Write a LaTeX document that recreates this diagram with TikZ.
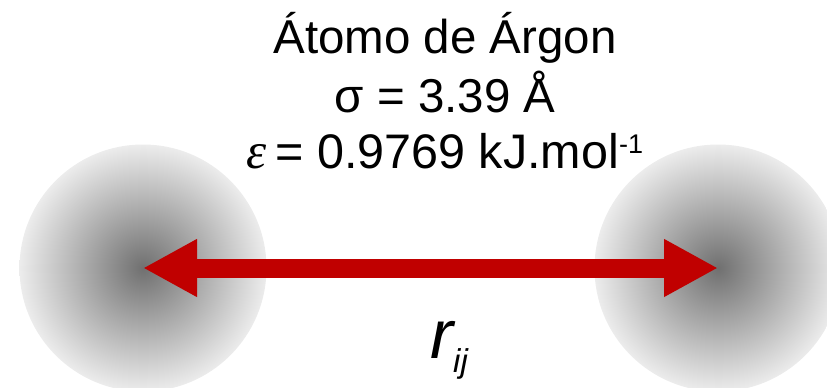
\documentclass[tikz,border=0pt]{standalone}
\usepackage{fontspec}
\setmainfont{Liberation Sans}
\newfontfamily\timesfont{Liberation Serif}
\usetikzlibrary{arrows.meta}
\definecolor{atomin}{RGB}{112,112,112}
\definecolor{atomout}{RGB}{236,236,236}
\definecolor{arrowred}{RGB}{192,0,0}
\tikzset{
  atom/.style={circle, inner sep=0pt, minimum size=247pt, shading=radial, inner color=atomin, outer color=atomout},
  bigtext/.style={font=\fontsize{47.5}{50}\selectfont, inner sep=0pt, anchor=base},
  bond/.style={arrowred, line width=19pt, line cap=butt, {Triangle[length=54pt,width=54pt]}-{Triangle[length=54pt,width=54pt]}}
}
\begin{document}
\begin{tikzpicture}[x=1pt,y=-1pt]
\useasboundingbox (0,0) rectangle (827,388);
\clip (0,0) rectangle (827,388);
\node[atom] (left) at (143,268) {};
\node[atom] (right) at (718,268) {};
\draw[bond] (left.center) -- (right.center);
\node[bigtext] (name) at (445,53) {Átomo de Árgon};
\node[bigtext] (sigma) at (445,112) {σ = 3.39 Å};
\node[bigtext, anchor=base west, font=\fontsize{48.5}{50}\selectfont] (eps) at (246,168) {{\timesfont\itshape\fontsize{51}{51}\selectfont ε}\kern9pt{}= 0.9769 kJ.mol\raisebox{15pt}{\fontsize{27}{27}\selectfont -1}};
\node[inner sep=0pt, anchor=base west] (rij) at (430,358) {\fontsize{69}{69}\selectfont\itshape r\raisebox{-14pt}{\fontsize{33}{33}\selectfont ij}};
\end{tikzpicture}
\end{document}
